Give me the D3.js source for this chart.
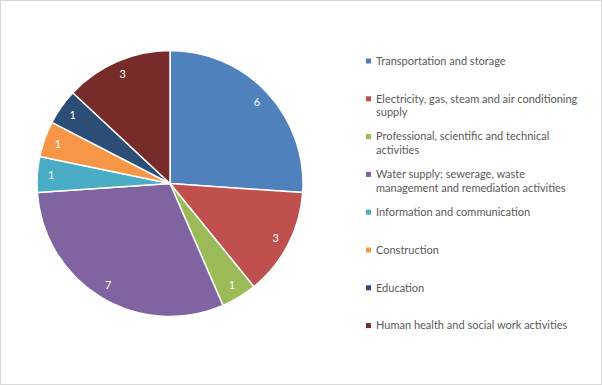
<!DOCTYPE html>
<html><head><meta charset="utf-8">
<script src="https://cdnjs.cloudflare.com/ajax/libs/d3/7.8.5/d3.min.js"></script>
<style>body{margin:0;background:#fff}svg{display:block}</style>
</head><body>
<script>
const categories = [
  "Transportation and storage",
  "Electricity, gas, steam and air conditioning supply",
  "Professional, scientific and technical activities",
  "Water supply; sewerage, waste management and remediation activities",
  "Information and communication",
  "Construction",
  "Education",
  "Human health and social work activities"
];
const values = [6, 3, 1, 7, 1, 1, 1, 3];
const colors = ["#4F81BD","#C0504D","#9BBB59","#8064A2","#4BACC6","#F79646","#2C4D75","#772C2A"];

const W = 602, H = 385;
const svg = d3.select("body").append("svg").attr("width", W).attr("height", H);
svg.append("rect").attr("x",0.5).attr("y",0.5).attr("width",W-1).attr("height",H-1)
  .attr("fill","#fff").attr("stroke","#d9d9d9");

const cx = 170, cy = 183.5, R = 133;
const data = categories.map((c,i)=>({cat:c, value:values[i], color:colors[i]}));
const pie = d3.pie().value(d=>d.value).sort(null);
const arcs = pie(data);
const arc = d3.arc().innerRadius(0).outerRadius(R);
const labelArc = d3.arc().innerRadius(119*2-R).outerRadius(R); // centroid at 119
const g = svg.append("g").attr("transform",`translate(${cx},${cy})`);
g.selectAll("path").data(arcs).join("path")
  .attr("d", arc).attr("fill", d=>d.data.color)
  .attr("stroke","#fff").attr("stroke-width",1.5).attr("stroke-linejoin","round");
g.selectAll("text").data(arcs).join("text")
  .attr("transform", d=>`translate(${labelArc.centroid(d)})`)
  .attr("text-anchor","middle").attr("dy","0.35em")
  .attr("fill","#fff").attr("font-family","Lato, 'Open Sans', sans-serif").attr("font-size",11)
  .text(d=>d.data.value);

// legend
const legX = 366, legY0 = 61, legStep = 37.8, lineH = 13.4, maxW = 206;
const leg = svg.append("g");
data.forEach((d,i)=>{
  const y = legY0 + i*legStep;
  leg.append("rect").attr("x",legX).attr("y",y-2.5).attr("width",5).attr("height",5).attr("fill",d.color);
  const t = leg.append("text").attr("x",legX+10).attr("y",y).attr("dy","0.35em")
    .attr("fill","#595959").attr("font-family","Lato, 'Open Sans', sans-serif").attr("font-size",11);
  const words = d.cat.split(" ");
  let line = [], ln = 0;
  let ts = t.append("tspan").attr("x",legX+10).attr("y",y).attr("dy","0.35em");
  words.forEach(w=>{
    line.push(w);
    ts.text(line.join(" "));
    if (ts.node().getComputedTextLength() > maxW && line.length>1){
      line.pop(); ts.text(line.join(" "));
      line=[w]; ln++;
      ts = t.append("tspan").attr("x",legX+10).attr("y",y+ln*lineH).attr("dy","0.35em").text(w);
    }
  });
});
</script>
</body></html>
